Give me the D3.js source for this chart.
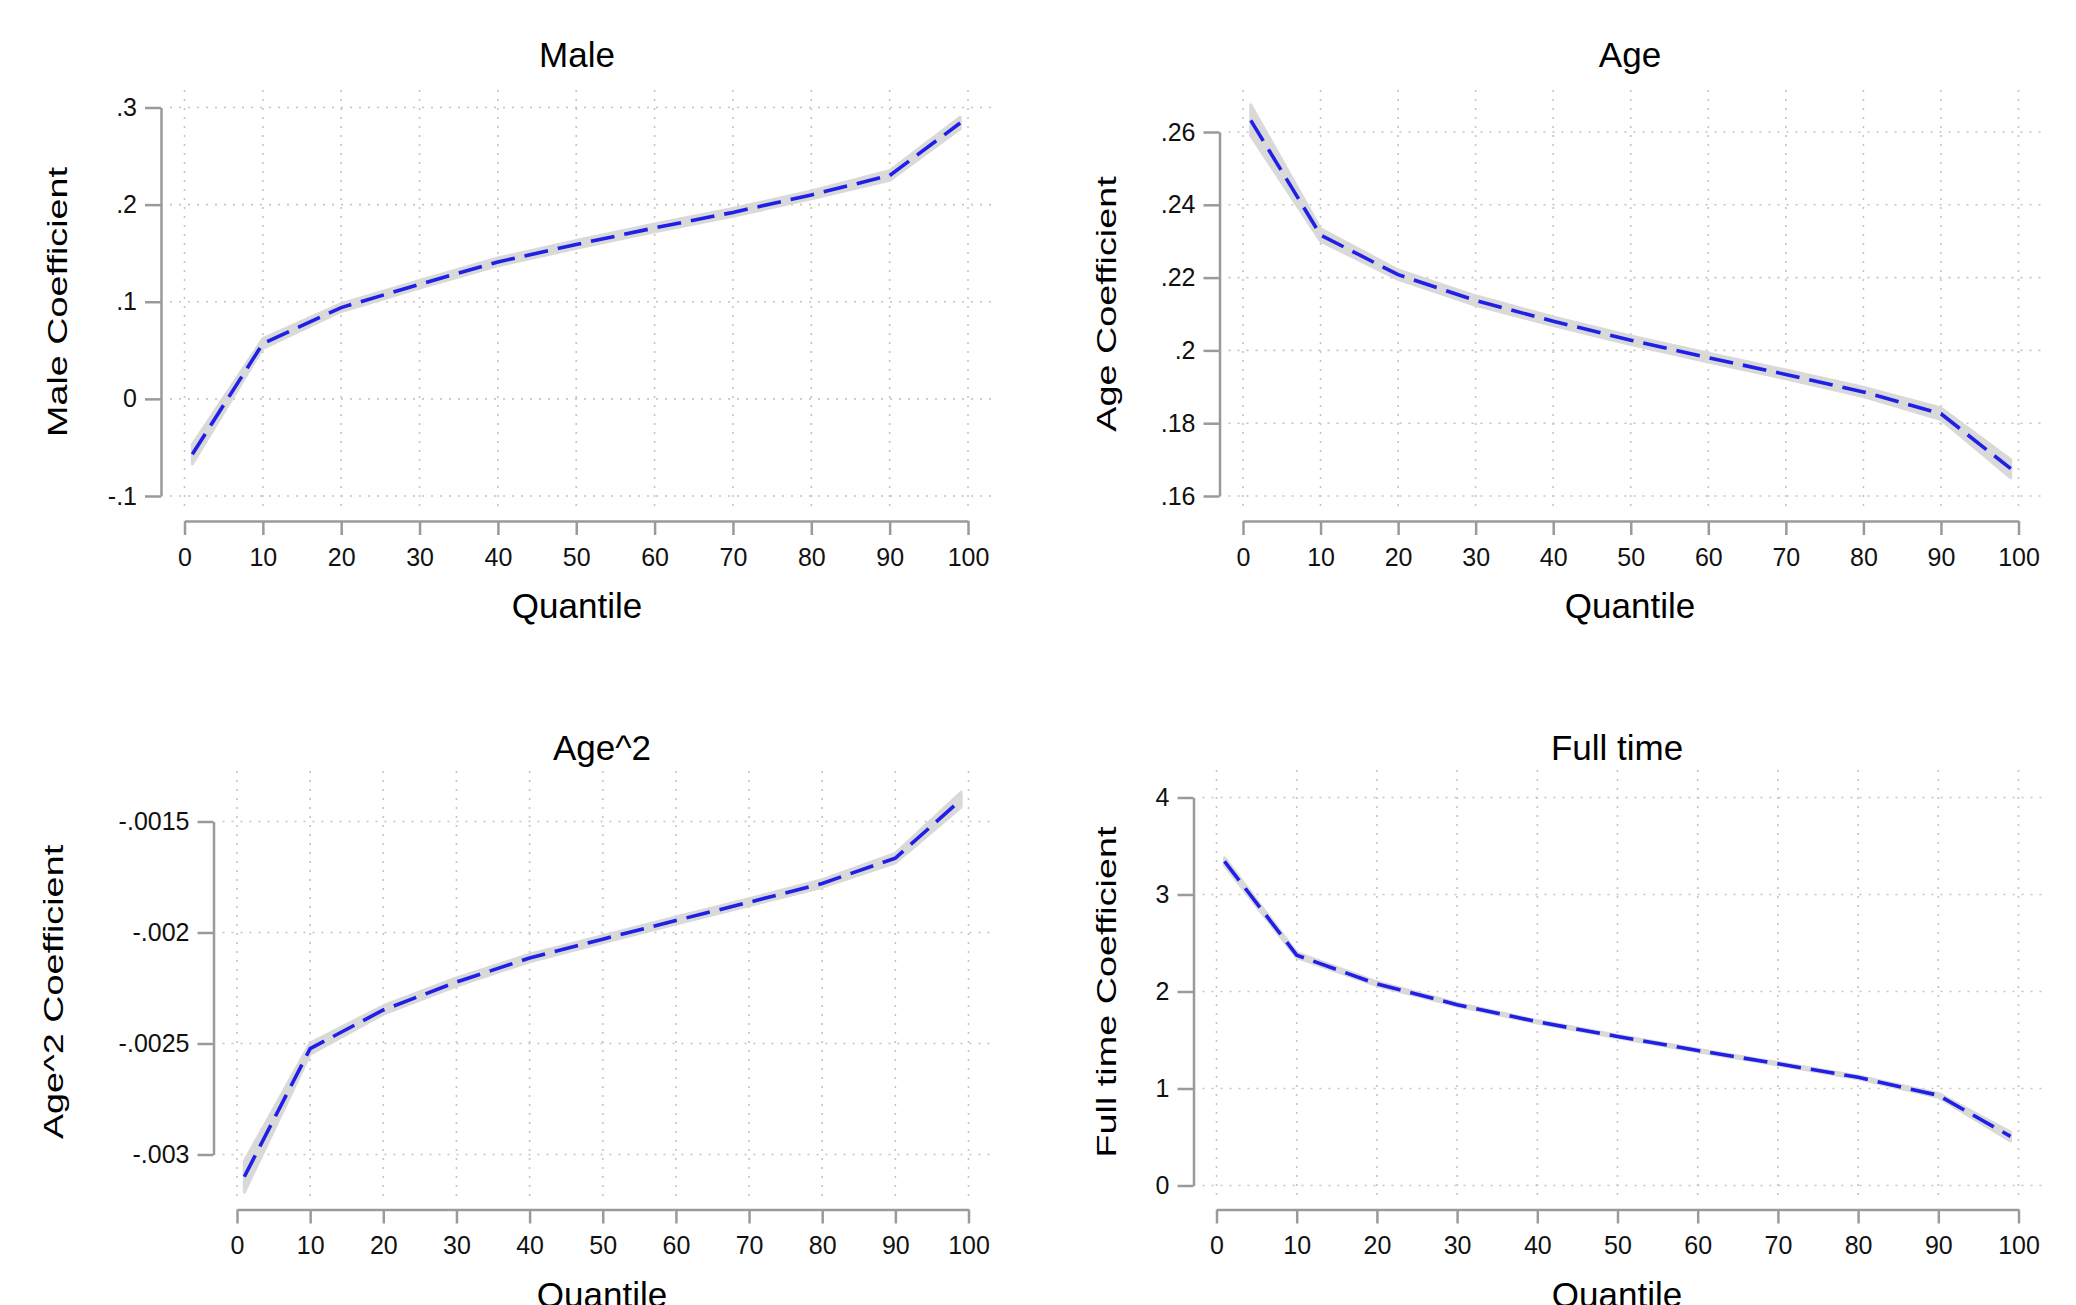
<!DOCTYPE html>
<html>
<head>
<meta charset="utf-8">
<script src="https://cdn.jsdelivr.net/npm/d3@7"></script>
<style>
	body { margin: 0; background: #fff; }
	svg { display: block; font-family: "Liberation Sans", Arial, Helvetica, sans-serif; }
	.grid line { stroke: #c4c4c4; stroke-width: 1.6; stroke-dasharray: 2 7; }
	.axis path, .axis line { stroke: #9a9a9a; stroke-width: 2.5; }
	.axis text { fill: #111; }
</style>
</head>
<body>
<svg id="chart" width="2076" height="1305"></svg>
<script>
// quantiles where the regressions were estimated
const quantiles = [1, 10, 20, 30, 40, 50, 60, 70, 80, 90, 99]
const xTicks = [0, 10, 20, 30, 40, 50, 60, 70, 80, 90, 100]

const maleCoef = [-0.057, 0.057, 0.094, 0.118, 0.141, 0.159, 0.176, 0.192, 0.210, 0.230, 0.284]
const maleLow = [-0.067, 0.052, 0.090, 0.114, 0.137, 0.155, 0.172, 0.188, 0.206, 0.225, 0.278]
const maleHigh = [-0.047, 0.062, 0.098, 0.122, 0.145, 0.163, 0.180, 0.196, 0.214, 0.235, 0.290]
const maleTicks = [-0.1, 0, 0.1, 0.2, 0.3]
const maleTickLabels = ['-.1', '0', '.1', '.2', '.3']

const ageCoef = [0.2632, 0.2317, 0.2208, 0.2137, 0.2080, 0.2028, 0.1980, 0.1934, 0.1886, 0.1826, 0.1675]
const ageLow = [0.2590, 0.2300, 0.2195, 0.2124, 0.2068, 0.2016, 0.1968, 0.1922, 0.1873, 0.1810, 0.1650]
const ageHigh = [0.2675, 0.2334, 0.2221, 0.2150, 0.2092, 0.2040, 0.1992, 0.1946, 0.1899, 0.1842, 0.1700]
const ageTicks = [0.16, 0.18, 0.2, 0.22, 0.24, 0.26]
const ageTickLabels = ['.16', '.18', '.2', '.22', '.24', '.26']

const age2Coef = [-0.00310, -0.002523, -0.002349, -0.002223, -0.002115, -0.002030, -0.001946, -0.001864, -0.001779, -0.001665, -0.001401]
const age2Low = [-0.00317, -0.002548, -0.002368, -0.002241, -0.002132, -0.002046, -0.001962, -0.001880, -0.001796, -0.001686, -0.001435]
const age2High = [-0.00303, -0.002498, -0.002330, -0.002205, -0.002098, -0.002014, -0.001930, -0.001848, -0.001762, -0.001644, -0.001367]
const age2Ticks = [-0.003, -0.0025, -0.002, -0.0015]
const age2TickLabels = ['-.003', '-.0025', '-.002', '-.0015']

const fullCoef = [3.342, 2.375, 2.078, 1.864, 1.688, 1.536, 1.392, 1.255, 1.115, 0.930, 0.507]
const fullLow = [3.300, 2.350, 2.060, 1.850, 1.675, 1.523, 1.379, 1.242, 1.100, 0.910, 0.460]
const fullHigh = [3.380, 2.400, 2.100, 1.880, 1.700, 1.549, 1.405, 1.268, 1.130, 0.950, 0.550]
const fullTicks = [0, 1, 2, 3, 4]
const fullTickLabels = ['0', '1', '2', '3', '4']

const panels = [
	{ title: 'Male', yTitle: 'Male Coefficient', coef: maleCoef, low: maleLow, high: maleHigh, ticks: maleTicks, labels: maleTickLabels },
	{ title: 'Age', yTitle: 'Age Coefficient', coef: ageCoef, low: ageLow, high: ageHigh, ticks: ageTicks, labels: ageTickLabels },
	{ title: 'Age^2', yTitle: 'Age^2 Coefficient', coef: age2Coef, low: age2Low, high: age2High, ticks: age2Ticks, labels: age2TickLabels },
	{ title: 'Full time', yTitle: 'Full time Coefficient', coef: fullCoef, low: fullLow, high: fullHigh, ticks: fullTicks, labels: fullTickLabels },
]

// pixel layout of each panel
const layout = [
	{ x0: 184.5, x1: 968, yBot: 496, yTop: 107.5, axisX: 161, axisY: 521, gTop: 90, gBot: 510, titleX: 577, titleY: 67, yTitleX: 67, yTitleY: 302, qY: 618 },
	{ x0: 1243, x1: 2018.5, yBot: 496, yTop: 132, axisX: 1219.5, axisY: 521, gTop: 90, gBot: 510, titleX: 1630, titleY: 67, yTitleX: 1116, yTitleY: 304, qY: 618 },
	{ x0: 237, x1: 968.5, yBot: 1154.5, yTop: 821.5, axisX: 213.5, axisY: 1209.5, gTop: 771, gBot: 1200, titleX: 602, titleY: 760, yTitleX: 63, yTitleY: 992, qY: 1307 },
	{ x0: 1216.5, x1: 2018.5, yBot: 1185.5, yTop: 797.5, axisX: 1193.5, axisY: 1209.5, gTop: 770, gBot: 1200, titleX: 1617, titleY: 760, yTitleX: 1116, yTitleY: 992, qY: 1307 },
]

const svg = d3.select('#chart')

function drawPanel(p, l) {
	let g = svg.append('g')

	let xScale = d3.scaleLinear().domain([0, 100]).range([l.x0, l.x1])
	let yScale = d3.scaleLinear()
		.domain([d3.min(p.ticks), d3.max(p.ticks)])
		.range([l.yBot, l.yTop])

	let gLeft = l.axisX + 9
	let gRight = l.x1 + 24

	// dotted grid
	let grid = g.append('g').attr('class', 'grid')
	grid.selectAll('.h').data(p.ticks).enter().append('line')
		.attr('x1', gLeft).attr('x2', gRight)
		.attr('y1', d => yScale(d)).attr('y2', d => yScale(d))
	grid.selectAll('.v').data(xTicks).enter().append('line')
		.attr('x1', d => xScale(d)).attr('x2', d => xScale(d))
		.attr('y1', l.gTop).attr('y2', l.gBot)

	let rows = quantiles.map((q, i) => ({ q: q, c: p.coef[i], lo: p.low[i], hi: p.high[i] }))

	// confidence band
	let area = d3.area()
		.x(d => xScale(d.q))
		.y0(d => yScale(d.lo))
		.y1(d => yScale(d.hi))
	g.append('path')
		.datum(rows)
		.attr('d', area)
		.attr('fill', '#d9d9d9')
		.attr('stroke', '#d9d9d9')
		.attr('stroke-width', 3)
		.attr('stroke-linejoin', 'round')

	// coefficient line
	let line = d3.line().x(d => xScale(d.q)).y(d => yScale(d.c))
	g.append('path')
		.datum(rows)
		.attr('d', line)
		.attr('fill', 'none')
		.attr('stroke', '#1f1fe6')
		.attr('stroke-width', 3.6)
		.attr('stroke-dasharray', '24 10')

	// axes
	let leftAxis = d3.axisLeft(yScale)
		.tickValues(p.ticks)
		.tickFormat((d, i) => p.labels[i])
		.tickSize(16).tickSizeOuter(0).tickPadding(8)
	g.append('g').attr('class', 'axis')
		.attr('transform', `translate(${l.axisX},0)`)
		.call(leftAxis)
		.selectAll('text').attr('font-size', 25)

	let bottomAxis = d3.axisBottom(xScale)
		.tickValues(xTicks)
		.tickSize(14).tickSizeOuter(0).tickPadding(13)
	g.append('g').attr('class', 'axis')
		.attr('transform', `translate(0,${l.axisY})`)
		.call(bottomAxis)
		.selectAll('text').attr('font-size', 25)

	g.selectAll('.axis').attr('font-family', null)

	// titles
	g.append('text')
		.attr('x', l.titleX).attr('y', l.titleY)
		.attr('text-anchor', 'middle')
		.attr('font-size', 35)
		.text(p.title)

	g.append('text')
		.attr('x', l.titleX).attr('y', l.qY)
		.attr('text-anchor', 'middle')
		.attr('font-size', 35)
		.text('Quantile')

	g.append('text')
		.attr('transform', `translate(${l.yTitleX},${l.yTitleY}) rotate(-90) scale(1.4,1)`)
		.attr('text-anchor', 'middle')
		.attr('font-size', 27)
		.text(p.yTitle)
}

panels.forEach((p, i) => drawPanel(p, layout[i]))
</script>
</body>
</html>
